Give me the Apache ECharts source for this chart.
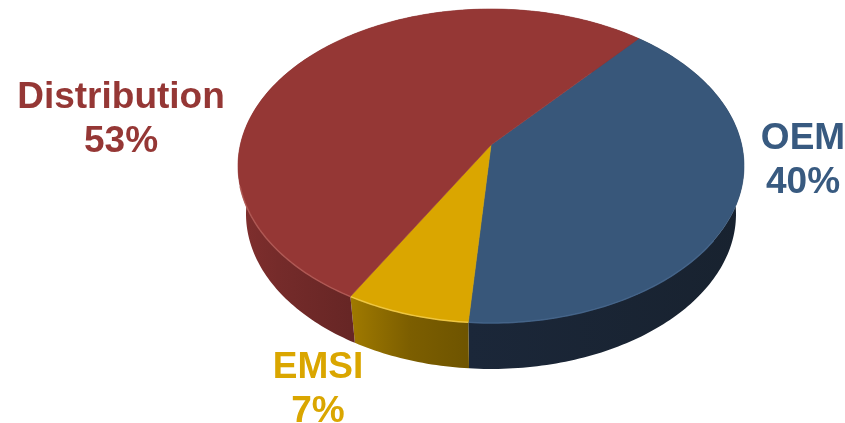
<!DOCTYPE html>
<html>
<head>
<meta charset="utf-8">
<style>html,body{margin:0;padding:0;background:#fff}#c{width:845px;height:423px}</style>
<script src="https://cdn.jsdelivr.net/npm/echarts@6/dist/echarts.min.js"></script>
</head>
<body>
<div id="c"></div>
<script>
// Data (clockwise from the slice boundary at upper right)
const categories = ['OEM', 'EMSI', 'Distribution'];
const shares = [40, 7, 53];

// Styling, kept apart from the data
const topColors = ['#38577A', '#DAA600', '#953735'];
const textColors = ['#385A80', '#DAA600', '#953735'];
const rimColors = ['#44648A', '#F2CB4A', '#B25A56'];
const sideStops = [
  [[0, '#1B2739'], [1, '#18222F']],
  [[0, '#A07A00'], [0.5, '#7C5E00'], [1, '#6E5400']],
  [[0, '#802F2E'], [0.1, '#752B2A'], [0.28, '#672625'], [1, '#642424']]
];
const labelAnchors = [[803, 139], [318, 368], [121, 98]];
const LINE_H = 44;
const START_DEG = 40.5;

// Disc projection: perspective mapping of a unit disc on to an ellipse
const CX = 491, TOP = {cy: 166, rx: 253, ry: 157}, BOT = {cy: 214, rx: 245, ry: 155};
const K = -0.134, S = Math.sqrt(1 - K * K);
function project(deg, e) {
  const a = deg * Math.PI / 180, u = Math.sin(a), v = -Math.cos(a), d = 1 + K * v;
  return [CX + e.rx * u * S / d, e.cy + e.ry * (v + K) / d];
}
function arc(from, to, e) {
  const pts = [], n = Math.max(2, Math.ceil(Math.abs(to - from)));
  for (let i = 0; i <= n; i++) pts.push(project(from + (to - from) * i / n, e));
  return pts;
}

// Rows of [share, share accumulated before this slice]
const rows = [];
shares.reduce((acc, v) => { rows.push([v, acc]); return acc + v; }, 0);
const total = shares.reduce((a, b) => a + b, 0);
const range = api => {
  const from = START_DEG + api.value(1) / total * 360;
  return [from, from + api.value(0) / total * 360];
};

function renderSide(params, api) {
  const [from, to] = range(api);
  const poly = arc(from, to, TOP).concat(arc(from, to, BOT).reverse());
  return {
    type: 'polygon',
    shape: {points: poly},
    style: {fill: {type: 'linear', x: 0, y: 0, x2: 1, y2: 0, colorStops:
      sideStops[params.dataIndex].map(s => ({offset: s[0], color: s[1]}))}}
  };
}
function renderTop(params, api) {
  const [from, to] = range(api);
  const i = params.dataIndex;
  const apex = [CX, TOP.cy + TOP.ry * K];
  // The bright bevel follows only the near edge of the disc
  const rimFrom = Math.max(from, 125), rimTo = Math.min(to, 255);
  const children = [{
    type: 'polygon',
    shape: {points: [apex].concat(arc(from, to, TOP))},
    style: {fill: topColors[i], stroke: topColors[i], lineWidth: 0.6}
  }];
  if (rimTo > rimFrom) children.push({
    type: 'polyline',
    shape: {points: arc(rimFrom, rimTo, TOP)},
    style: {fill: null, stroke: rimColors[i], lineWidth: 1.5, opacity: 0.85}
  });
  return {type: 'group', children};
}
function renderLabel(params, api) {
  const i = params.dataIndex, p = labelAnchors[i];
  const common = {textAlign: 'center', textVerticalAlign: 'middle', fill: textColors[i],
    font: 'bold 37px "Liberation Sans", Arial, sans-serif'};
  return {type: 'group', children: [
    {type: 'text', style: Object.assign({text: categories[i], x: p[0], y: p[1]}, common)},
    {type: 'text', style: Object.assign({text: api.value(0) + '%', x: p[0], y: p[1] + LINE_H}, common)}
  ]};
}

const chart = echarts.init(document.getElementById('c'), null, {renderer: 'canvas'});
chart.setOption({
  animation: false,
  backgroundColor: '#fff',
  series: [
    {type: 'custom', coordinateSystem: 'none', silent: true, renderItem: renderSide, data: rows, z: 1},
    {type: 'custom', coordinateSystem: 'none', silent: true, renderItem: renderTop, data: rows, z: 2},
    {type: 'custom', coordinateSystem: 'none', silent: true, renderItem: renderLabel, data: rows, z: 3}
  ]
});
</script>
</body>
</html>
